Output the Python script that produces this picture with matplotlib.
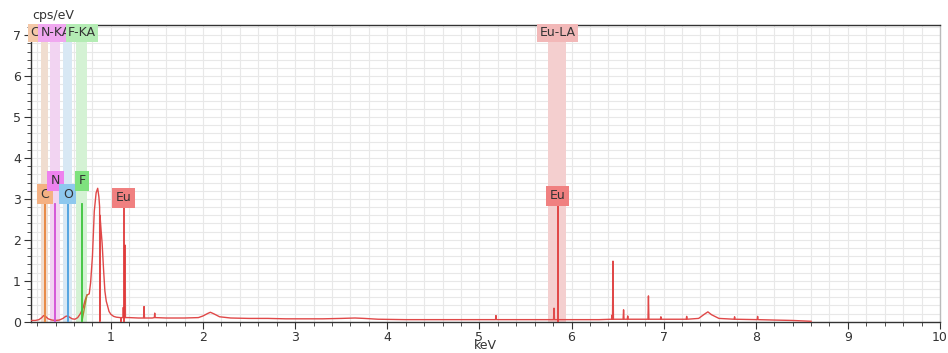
import matplotlib.pyplot as plt
from matplotlib.ticker import MultipleLocator

# spectrum (keV, cps/eV)
spec_e = [0.13, 0.18, 0.22, 0.25, 0.27, 0.29, 0.32, 0.36, 0.40, 0.44, 0.48, 0.51, 0.53, 0.55,
          0.58, 0.61, 0.64, 0.67, 0.70, 0.72, 0.74, 0.765, 0.78, 0.80, 0.82, 0.84, 0.857, 0.87,
          0.878, 0.880, 0.882, 0.895, 0.905, 0.92, 0.935, 0.95, 0.966, 0.98, 1.0, 1.03, 1.06,
          1.10, 1.108, 1.110, 1.112, 1.13, 1.135, 1.14, 1.152, 1.155, 1.158, 1.20, 1.30, 1.355,
          1.36, 1.365, 1.45, 1.472, 1.476, 1.48, 1.6, 1.8, 1.95, 2.0, 2.05, 2.08, 2.12, 2.18,
          2.3, 2.5, 2.7, 2.9, 3.1, 3.3, 3.5, 3.65, 3.75, 3.9, 4.2, 4.6, 5.0, 5.175, 5.18, 5.185,
          5.4, 5.7, 5.805, 5.81, 5.815, 6.0, 6.3, 6.435, 6.44, 6.445, 6.45, 6.455, 6.56, 6.565,
          6.57, 6.605, 6.61, 6.615, 6.83, 6.835, 6.84, 6.965, 6.97, 6.975, 7.245, 7.25, 7.255,
          7.38, 7.44, 7.48, 7.52, 7.6, 7.765, 7.77, 7.775, 8.015, 8.02, 8.025, 8.2, 8.4, 8.6]
spec_y = [0.03, 0.03, 0.05, 0.10, 0.15, 0.13, 0.07, 0.04, 0.03, 0.04, 0.08, 0.13, 0.14, 0.11,
          0.07, 0.06, 0.10, 0.20, 0.35, 0.52, 0.65, 0.68, 0.95, 1.6, 2.7, 3.15, 3.26, 3.05,
          2.8, 0.0, 2.6, 2.2, 1.92, 1.3, 0.75, 0.5, 0.37, 0.25, 0.18, 0.13, 0.11,
          0.10, 0.10, 0.0, 0.10, 0.10, 0.35, 0.10, 0.10, 1.87, 0.10, 0.10, 0.09, 0.09,
          0.37, 0.09, 0.09, 0.10, 0.21, 0.10, 0.09, 0.09, 0.10, 0.14, 0.20, 0.23, 0.19, 0.12,
          0.09, 0.08, 0.08, 0.07, 0.07, 0.07, 0.08, 0.09, 0.08, 0.06, 0.05, 0.05, 0.05, 0.05, 0.15, 0.05,
          0.05, 0.05, 0.05, 0.33, 0.05, 0.05, 0.05, 0.06, 0.16, 0.06, 1.48, 0.06, 0.06, 0.29,
          0.06, 0.06, 0.14, 0.06, 0.06, 0.63, 0.06, 0.06, 0.12, 0.06, 0.06, 0.13, 0.06,
          0.08, 0.18, 0.24, 0.17, 0.08, 0.06, 0.12, 0.06, 0.05, 0.13, 0.05, 0.04, 0.03, 0.01]

# F fit segment
fit_e = [0.685, 0.74]
fit_y = [0.0, 0.65]

# element markers
mark_names = ['C', 'N', 'O', 'F', 'Eu', 'Eu']
mark_e = [0.282, 0.398, 0.532, 0.688, 1.139, 5.85]
mark_lbl_y = [3.11, 3.45, 3.11, 3.45, 3.03, 3.08]
mark_line_top = 2.88
mark_line_col = ['#e8833a', '#d24fd6', '#4a9fe0', '#3cc43c', '#e03a3a', '#e03a3a']
mark_box_col = ['#f4b183', '#ee82ee', '#8ec8ee', '#7ee27e', '#f08080', '#f08080']

# top line labels and shaded bands
top_names = ['C-KA', 'O-KA', 'N-KA', 'F-KA', 'Eu-LA']
top_e = [0.282, 0.532, 0.398, 0.688, 5.85]
top_col = ['#f4c8a8', '#b8dcf4', '#f0a8f0', '#b4ecb4', '#f2b8b8']
band_lo = [0.243, 0.344, 0.477, 0.626, 5.74]
band_hi = [0.315, 0.452, 0.579, 0.742, 5.94]
band_col = ['#f0ddd0', '#f2d4f2', '#d8e8f4', '#d4f2d4', '#f4cfcf']

fig = plt.figure(figsize=(9.48, 3.53), dpi=100)
ax = fig.add_axes([0.0324, 0.0887, 0.9592, 0.8405])

for lo, hi, c in zip(band_lo, band_hi, band_col):
    ax.axvspan(lo, hi, color=c, lw=0, zorder=1)

ax.plot(spec_e, spec_y, color='#e04848', lw=1.0, zorder=3)
ax.plot(fit_e, fit_y, color='#a88a30', lw=1.0, zorder=3)

for e, c in zip(mark_e, mark_line_col):
    ax.plot([e, e], [0, mark_line_top], color=c, lw=1.3, zorder=4)
for name, e, y, c in zip(mark_names, mark_e, mark_lbl_y, mark_box_col):
    ax.text(e, y, name, ha='center', va='center', fontsize=9, color='#333333', zorder=6,
            bbox=dict(boxstyle='square,pad=0.28', fc=c, ec='none'))

for i, (name, e, c) in enumerate(zip(top_names, top_e, top_col)):
    ax.text(e, 7.06, name, ha='center', va='center', fontsize=9, color='#333333', zorder=7 + i,
            bbox=dict(boxstyle='square,pad=0.18', fc=c, ec='none'))

ax.set_xlim(0.13, 10)
ax.set_ylim(0, 7.25)
ax.xaxis.set_major_locator(MultipleLocator(1))
ax.xaxis.set_minor_locator(MultipleLocator(0.2))
ax.yaxis.set_major_locator(MultipleLocator(1))
ax.yaxis.set_minor_locator(MultipleLocator(0.2))
ax.grid(which='both', color='#e8e8e8', lw=0.8, zorder=0)
ax.set_axisbelow(True)
ax.tick_params(which='major', length=5, labelsize=9, color='#333333', labelcolor='#333333', pad=2)
ax.tick_params(which='minor', length=3, color='#333333')
for s in ax.spines.values():
    s.set_color('#333333')
    s.set_linewidth(1.0)
ax.spines['right'].set_color('#bbbbbb')

fig.text(0.512, 0.022, 'keV', fontsize=9, color='#333333', ha='center', va='center')
fig.text(0.034, 0.955, 'cps/eV', fontsize=9, color='#333333', ha='left', va='center')

fig.savefig('out.png', dpi=100)
